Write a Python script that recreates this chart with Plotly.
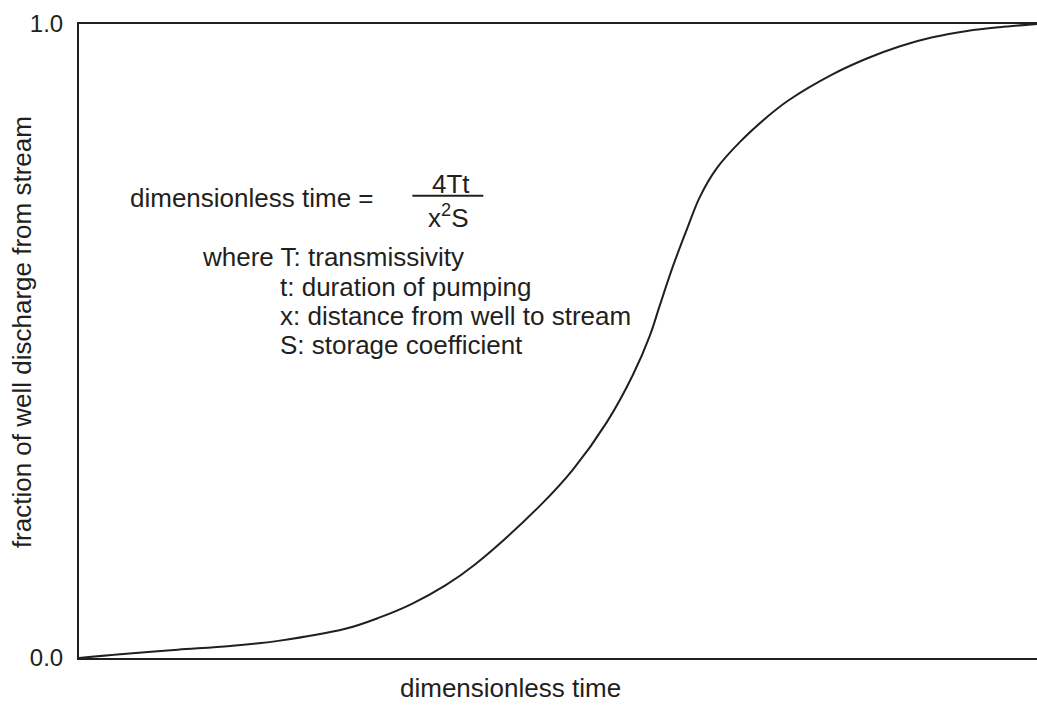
import plotly.graph_objects as go

# Stream depletion curve: fraction of well discharge drawn from the stream
# versus dimensionless time (arbitrary linear scale, 0..1).
dimensionless_time = [0.0, 0.043, 0.103, 0.158, 0.208, 0.278, 0.314, 0.347,
                      0.382, 0.413, 0.481, 0.516, 0.551, 0.578, 0.596, 0.606,
                      0.620, 0.635, 0.648, 0.666, 0.690, 0.718, 0.740, 0.787,
                      0.823, 0.857, 0.891, 0.927, 0.961, 1.0]
fraction_from_stream = [0.0, 0.006, 0.013, 0.019, 0.027, 0.046, 0.064, 0.085,
                        0.114, 0.147, 0.240, 0.298, 0.372, 0.446, 0.509, 0.555,
                        0.618, 0.678, 0.727, 0.773, 0.814, 0.853, 0.879, 0.921,
                        0.946, 0.965, 0.979, 0.989, 0.995, 1.0]

y_tick_values = [0, 1]
y_tick_labels = ["0.0", "1.0"]

INK = "#231f20"
FONT = "Liberation Sans, Arial, Helvetica, sans-serif"

fig = go.Figure()
fig.add_trace(go.Scatter(
    x=dimensionless_time,
    y=fraction_from_stream,
    mode="lines",
    line=dict(color=INK, width=2, shape="spline", smoothing=1.0),
    cliponaxis=False,
    hoverinfo="skip",
    showlegend=False,
))

fig.update_layout(
    width=1037,
    height=710,
    margin=dict(l=79, r=0, t=24, b=52),
    paper_bgcolor="white",
    plot_bgcolor="white",
    font=dict(family=FONT, size=24, color=INK),
    showlegend=False,
)

fig.update_xaxes(
    range=[0, 1],
    showgrid=False,
    zeroline=False,
    showticklabels=False,
    ticks="",
    showline=True,
    linecolor=INK,
    linewidth=2,
    mirror=True,
)
fig.update_yaxes(
    range=[0, 1],
    showgrid=False,
    zeroline=False,
    tickvals=y_tick_values,
    ticktext=y_tick_labels,
    ticks="",
    ticklabelstandoff=9,
    tickfont=dict(size=24, color=INK),
    showline=True,
    linecolor=INK,
    linewidth=2,
)

# axis titles
fig.add_annotation(text="dimensionless time", xref="paper", yref="paper",
                   x=0.45, y=0, yshift=-30, xanchor="center", yanchor="middle",
                   showarrow=False, font=dict(size=26))
fig.add_annotation(text="fraction of well discharge from stream",
                   xref="paper", yref="paper", x=0, xshift=-57, y=0.514,
                   textangle=-90, xanchor="center", yanchor="middle",
                   showarrow=False, font=dict(size=26))

# definition of dimensionless time
fig.add_annotation(text="dimensionless time =", xref="x", yref="y",
                   x=0.051, y=0.726, xanchor="left", yanchor="middle",
                   showarrow=False, font=dict(size=26))
fig.add_annotation(text="4Tt", xref="x", yref="y",
                   x=0.388, y=0.747, xanchor="center", yanchor="middle",
                   showarrow=False, font=dict(size=26))
fig.add_shape(type="line", xref="x", yref="y",
              x0=0.348, x1=0.422, y0=0.729, y1=0.729,
              line=dict(color=INK, width=2))
fig.add_annotation(text="x<sup>2</sup>S", xref="x", yref="y",
                   x=0.385, y=0.697, xanchor="center", yanchor="middle",
                   showarrow=False, font=dict(size=26))

fig.add_annotation(text="where T: transmissivity", xref="x", yref="y",
                   x=0.126, y=0.632, xanchor="left", yanchor="middle",
                   showarrow=False, font=dict(size=26))
definitions = ["t: duration of pumping",
               "x: distance from well to stream",
               "S: storage coefficient"]
for i, line in enumerate(definitions):
    fig.add_annotation(text=line, xref="x", yref="y",
                       x=0.208, y=0.585 - 0.0455 * i, xanchor="left",
                       yanchor="middle", showarrow=False, font=dict(size=26))

fig.write_html("out.html")
